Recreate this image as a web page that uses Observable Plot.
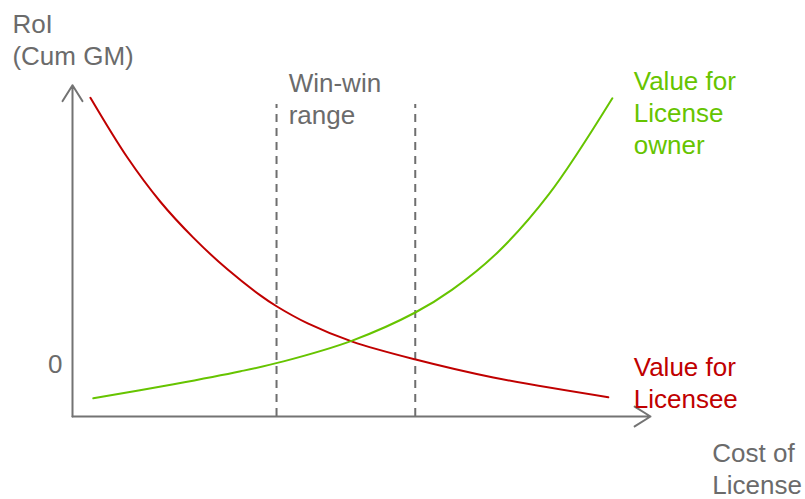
<!DOCTYPE html>
<html>
<head>
<meta charset="utf-8">
<script src="https://cdn.jsdelivr.net/npm/d3@7"></script>
<script src="https://cdn.jsdelivr.net/npm/@observablehq/plot@0.6"></script>
<style>
  html, body { margin: 0; padding: 0; background: #fff; }
</style>
</head>
<body>
<div id="chart"></div>
<script>
// ---- data ----
const licenseeCost  = [0.31, 0.95, 1.52, 2.09, 2.68, 3.25, 3.53, 4.07, 4.84, 5.92, 7.28, 9.27];
const licenseeValue = [5.13, 3.98, 3.13, 2.44, 1.83, 1.33, 1.12, 0.79, 0.44, 0.10, -0.25, -0.63];

const ownerCost  = [0.36, 1.75, 2.91, 3.65, 4.84, 5.93, 6.57, 7.35, 8.24, 9.34];
const ownerValue = [-0.65, -0.38, -0.13, 0.06, 0.46, 1.00, 1.44, 2.15, 3.27, 5.12];

const winWinBounds = [3.53, 5.93];
const yTicks = [0];

const labels = [
  {text: "RoI\n(Cum GM)", x: -1.04, y: 6.81, color: "#6b6b6b"},
  {text: "Win-win\nrange", x: 3.74, y: 5.68, color: "#6b6b6b"},
  {text: "Value for\nLicense\nowner", x: 9.71, y: 5.72, color: "#66c400"},
  {text: "Value for\nLicensee", x: 9.71, y: 0.22, color: "#c00000"},
  {text: "Cost of\nLicense", x: 11.07, y: -1.44, color: "#6b6b6b"}
];

const licensee = licenseeCost.map((c, i) => ({cost: c, value: licenseeValue[i]}));
const owner = ownerCost.map((c, i) => ({cost: c, value: ownerValue[i]}));

const axisColor = "#737373";

const chart = Plot.plot({
  width: 805,
  height: 499,
  margin: 0,
  style: {fontFamily: "'Liberation Sans', Arial, sans-serif", fontSize: "26px", background: "#fff"},
  x: {domain: [0, 10], range: [72, 650], axis: null},
  y: {domain: [-1, 5], range: [416, 104], axis: null},
  marks: [
    // dashed win-win range
    Plot.ruleX(winWinBounds, {x: d => d, y1: -1, y2: 5, stroke: "#6e6e6e", strokeWidth: 2, strokeDasharray: "8,6"}),
    // axes with arrow heads
    Plot.arrow([{x1: 0, y1: -1, x2: 0, y2: 5.37}], {x1: "x1", y1: "y1", x2: "x2", y2: "y2", stroke: axisColor, strokeWidth: 2, headLength: 14, headAngle: 64}),
    Plot.arrow([{x1: 0, y1: -1, x2: 10, y2: -1}], {x1: "x1", y1: "y1", x2: "x2", y2: "y2", stroke: axisColor, strokeWidth: 2, headLength: 14, headAngle: 64}),
    // y tick label
    Plot.text(yTicks, {x: 0, y: d => d, text: d => String(d), textAnchor: "end", dx: -10, fill: "#6b6b6b", fontSize: 26}),
    // curves
    Plot.line(licensee, {x: "cost", y: "value", stroke: "#c00000", strokeWidth: 2, curve: "catmull-rom"}),
    Plot.line(owner, {x: "cost", y: "value", stroke: "#66c400", strokeWidth: 2, curve: "catmull-rom"}),
    // annotations
    Plot.text(labels, {x: "x", y: "y", text: "text", fill: "color", textAnchor: "start", lineAnchor: "top", lineHeight: 1.23, fontSize: 26})
  ]
});
document.getElementById("chart").append(chart);
</script>
</body>
</html>
